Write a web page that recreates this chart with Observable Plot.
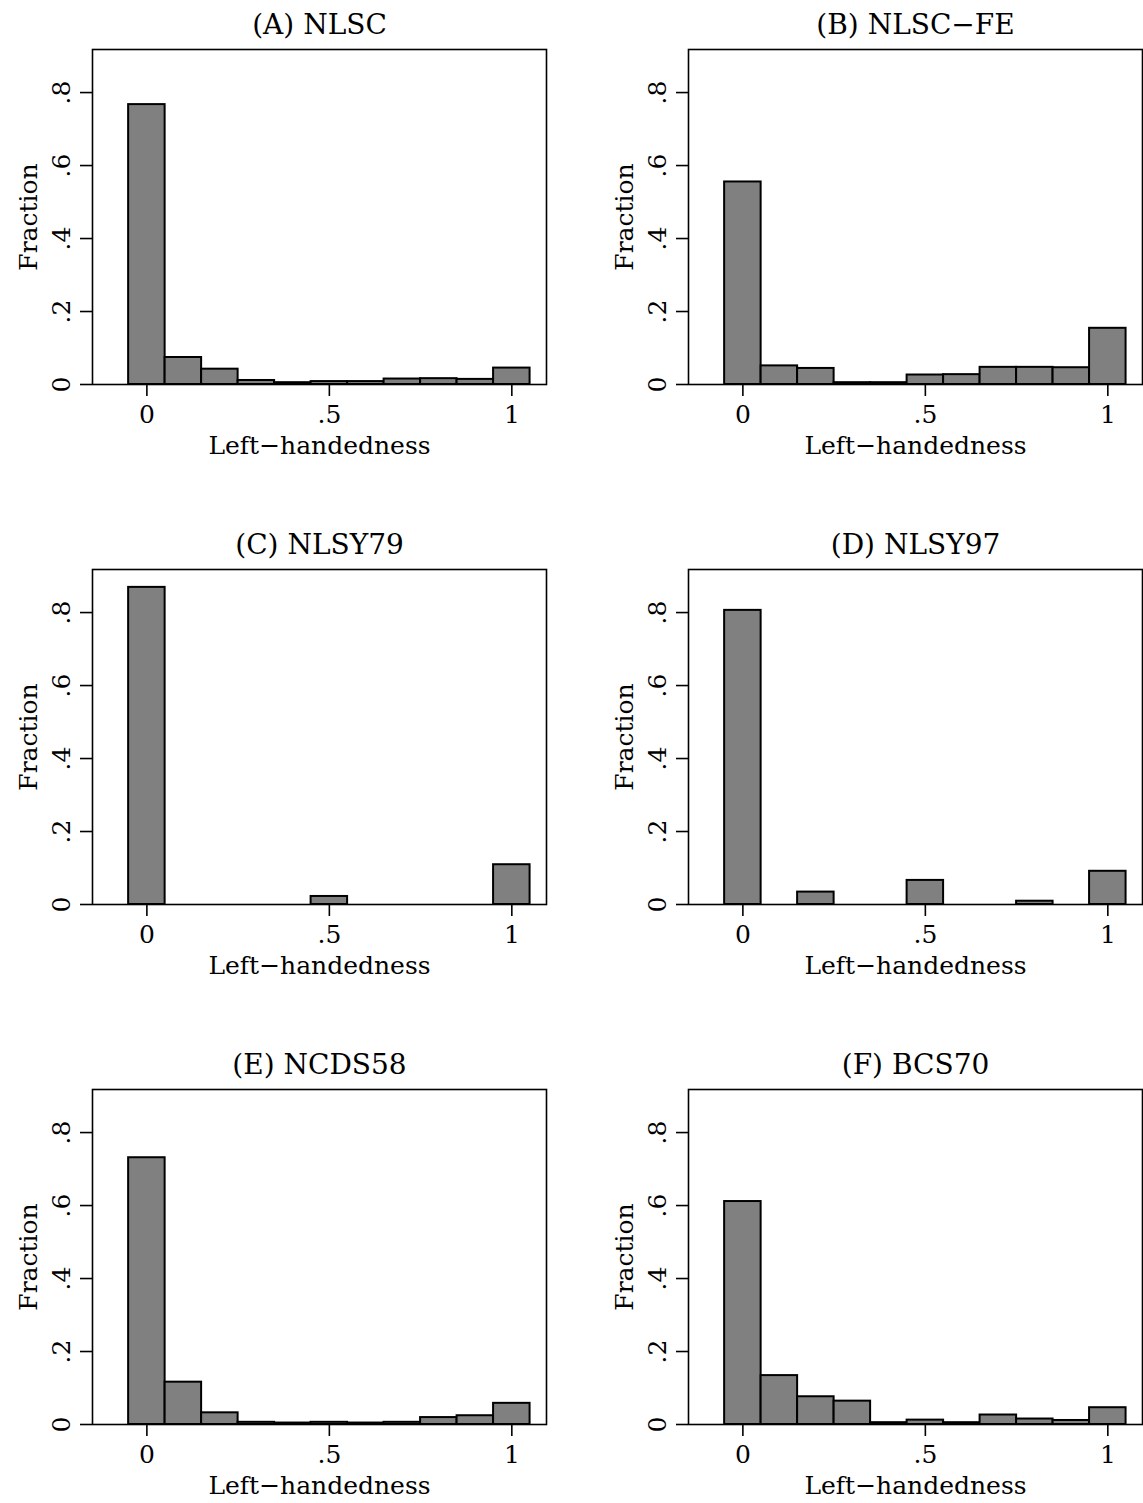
<!DOCTYPE html>
<html><head><meta charset="utf-8">
<script src="https://cdn.jsdelivr.net/npm/d3@7"></script>
<script src="https://cdn.jsdelivr.net/npm/@observablehq/plot@0.6"></script>
<style>
html,body{margin:0;padding:0;background:#fff;overflow:hidden;}
#wrap{position:relative;width:1143px;height:1503px;overflow:hidden;background:#fff;}
.panel{position:absolute;}
</style></head><body><div id="wrap"></div>
<script>
// Bin centres (Left-handedness), width 0.1
const binCenters = [0, 0.1, 0.2, 0.3, 0.4, 0.5, 0.6, 0.7, 0.8, 0.9, 1];
const panelTitles = ["(A) NLSC", "(B) NLSC\u2212FE", "(C) NLSY79", "(D) NLSY97", "(E) NCDS58", "(F) BCS70"];
// Fractions per bin
const fracNLSC   = [0.767, 0.074, 0.042, 0.011, 0.005, 0.008, 0.008, 0.015, 0.016, 0.014, 0.045];
const fracNLSCFE = [0.555, 0.051, 0.044, 0.005, 0.005, 0.026, 0.027, 0.047, 0.047, 0.046, 0.154];
const fracNLSY79 = [0.869, 0, 0, 0, 0, 0.022, 0, 0, 0, 0, 0.109];
const fracNLSY97 = [0.806, 0, 0.034, 0, 0, 0.066, 0, 0, 0.009, 0, 0.091];
const fracNCDS58 = [0.731, 0.116, 0.032, 0.006, 0.004, 0.006, 0.004, 0.006, 0.019, 0.024, 0.058];
const fracBCS70  = [0.611, 0.134, 0.076, 0.064, 0.005, 0.012, 0.005, 0.026, 0.015, 0.011, 0.046];
const xTicks = [0, 0.5, 1];
const xTickLabels = ["0", ".5", "1"];
const yTicks = [0, 0.2, 0.4, 0.6, 0.8];
const yTickLabels = ["0", ".2", ".4", ".6", ".8"];
const xLabel = "Left\u2212handedness";
const yLabel = "Fraction";

const series = [fracNLSC, fracNLSCFE, fracNLSY79, fracNLSY97, fracNCDS58, fracBCS70];
const binWidth = 0.1;
const wrap = document.getElementById("wrap");

series.forEach((vals, i) => {
  const rows = binCenters.map((c, j) => ({x: c, f: vals[j]})).filter(d => d.f > 0);
  const col = i % 2, row = Math.floor(i / 2);
  const chart = Plot.plot({
    width: 547,
    height: 463,
    marginLeft: 92,
    marginRight: 1,
    marginTop: 49,
    marginBottom: 79,
    style: {fontFamily: "'DejaVu Serif', serif", fontSize: "25px", background: "#fff", color: "#000", overflow: "visible"},
    x: {domain: [-0.149, 1.095], label: null, axis: null},
    y: {domain: [0, 0.918], label: null, axis: null},
    marks: [
      Plot.rectY(rows, {x1: d => d.x - binWidth / 2, x2: d => d.x + binWidth / 2, y1: 0, y2: "f", fill: "#808080", stroke: "#000", strokeWidth: 2}),
      Plot.frame({stroke: "#000", strokeWidth: 1.6}),
      Plot.axisX({ticks: xTicks, tickFormat: d => xTickLabels[xTicks.indexOf(d)], tickSize: 12, tickPadding: 9, label: null, strokeWidth: 1.6}),
      Plot.axisY({ticks: yTicks, tickFormat: d => yTickLabels[yTicks.indexOf(d)], tickSize: 12, tickPadding: 11, tickRotate: -90, label: null, strokeWidth: 1.6}),
      Plot.text([panelTitles[i]], {frameAnchor: "top", dy: -16, lineAnchor: "bottom", textAnchor: "middle", fontSize: 28, fill: "#000"}),
      Plot.text([xLabel], {frameAnchor: "bottom", dy: 69, lineAnchor: "bottom", textAnchor: "middle", fill: "#000"}),
      Plot.text([yLabel], {frameAnchor: "left", dx: -56, rotate: -90, lineAnchor: "bottom", textAnchor: "middle", fill: "#000"})
    ]
  });
  const div = document.createElement("div");
  div.className = "panel";
  div.style.left = (col * 596) + "px";
  div.style.top = (row * 520) + "px";
  div.appendChild(chart);
  wrap.appendChild(div);
});
</script>
</body></html>
